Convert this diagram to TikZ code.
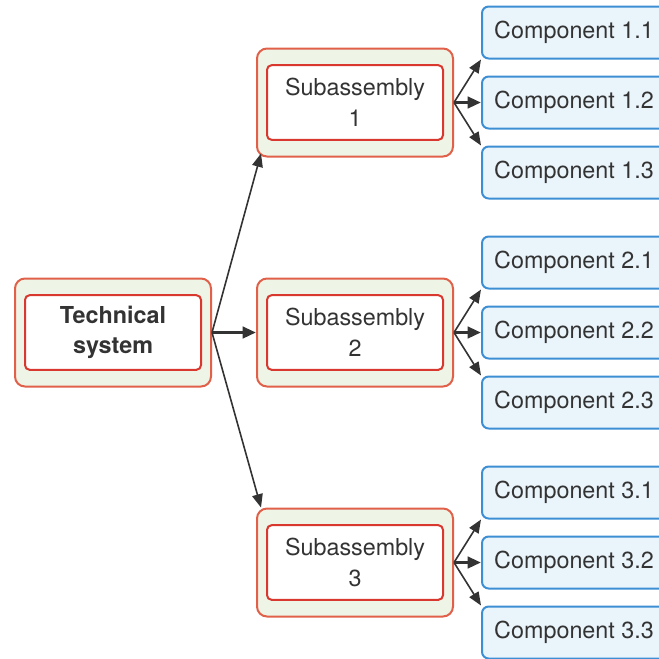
\documentclass[tikz,border=0pt]{standalone}
\usepackage{fontspec}
\setmainfont{TeX Gyre Heros}
\usetikzlibrary{positioning, arrows.meta}

\definecolor{boxgreen}{HTML}{EEF4E6}
\definecolor{boxred}{HTML}{E0604A}
\definecolor{innerred}{HTML}{D9382F}
\definecolor{compblue}{HTML}{EAF4FB}
\definecolor{compline}{HTML}{3D8FD4}
\definecolor{ink}{HTML}{333333}

\begin{document}
\begin{tikzpicture}[x=0.75pt, y=-0.75pt, node distance=12pt,
    outer/.style={draw=boxred, fill=boxgreen, line width=1.5pt, rounded corners=7.5pt,
        minimum width=147pt, minimum height=81pt},
    inner/.style={draw=innerred, fill=white, line width=1.5pt, rounded corners=3.5pt,
        minimum width=132pt, minimum height=56pt, align=center, text=ink,
        font=\fontsize{17.5}{23}\selectfont},
    comp/.style={draw=compline, fill=compblue, line width=1.5pt, rounded corners=5pt,
        minimum width=138pt, minimum height=39pt, text=ink,
        font=\fontsize{17.5}{21}\selectfont},
    thin/.style={draw=ink, line width=1.2pt, -{Triangle[length=10pt, width=8pt]}},
    thick/.style={draw=ink, line width=2.4pt, -{Triangle[length=10pt, width=8.5pt]}}]
    \useasboundingbox (0,0) rectangle (659,658);
    \clip (0,0) rectangle (659,658);

    \node[outer] (ts) at (113,332.5) {};
    \node[inner, font=\bfseries\fontsize{17.5}{23}\selectfont] (tsin) at (ts.center) {Technical\\system};

    \node[outer, right = 33pt of ts] (s2) {};
    \node[outer, above = 90pt of s2] (s1) {};
    \node[outer, below = 90pt of s2] (s3) {};
    \node[inner] (s1in) at (s1.center) {Subassembly\\1};
    \node[inner] (s2in) at (s2.center) {Subassembly\\2};
    \node[inner] (s3in) at (s3.center) {Subassembly\\3};

    \node[comp, right = 20.25pt of s1] (c12) {Component 1.2};
    \node[comp, above = of c12] (c11) {Component 1.1};
    \node[comp, below = of c12] (c13) {Component 1.3};
    \node[comp, right = 20.25pt of s2] (c22) {Component 2.2};
    \node[comp, above = of c22] (c21) {Component 2.1};
    \node[comp, below = of c22] (c23) {Component 2.3};
    \node[comp, right = 20.25pt of s3] (c32) {Component 3.2};
    \node[comp, above = of c32] (c31) {Component 3.1};
    \node[comp, below = of c32] (c33) {Component 3.3};

    \coordinate (s1hit) at ([shift={(5,-4)}]s1.south west);
    \coordinate (s3hit) at ([shift={(5,0)}]s3.north west);
    \draw[thin] (ts.east) -- (s1hit);
    \draw[thick] (ts.east) -- (s2.west);
    \draw[thin] (ts.east) -- (s3hit);

    \draw[thin] (s1.east) -- (c11.south west);
    \draw[thick] (s1.east) -- (c12.west);
    \draw[thin] (s1.east) -- (c13.north west);
    \draw[thin] (s2.east) -- (c21.south west);
    \draw[thick] (s2.east) -- (c22.west);
    \draw[thin] (s2.east) -- (c23.north west);
    \draw[thin] (s3.east) -- (c31.south west);
    \draw[thick] (s3.east) -- (c32.west);
    \draw[thin] (s3.east) -- (c33.north west);
\end{tikzpicture}
\end{document}
